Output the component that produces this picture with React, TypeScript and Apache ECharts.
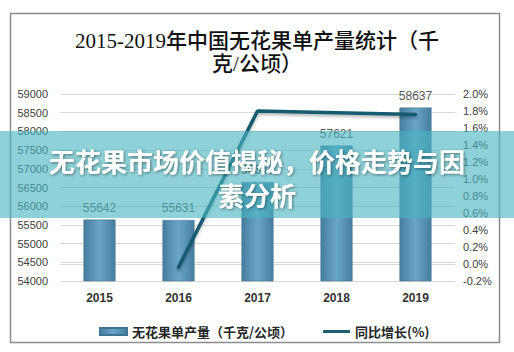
import React, { useEffect, useRef } from "react";
import * as echarts from "echarts";

const categories = ["2015", "2016", "2017", "2018", "2019"];
const yieldValues = [55642, 55631, 56645, 57621, 58637];
const growthValues: (number | null)[] = [null, -0.04, 1.8, 1.78, 1.76];
const titleText = "2015-2019年中国无花果单产量统计（千\n克/公顷）";
const bannerText = "无花果市场价值揭秘，价格走势与因\n素分析";
const seriesNames = ["无花果单产量（千克/公顷）", "同比增长(%)"];

export default function App() {
  const ref = useRef<HTMLDivElement>(null);
  useEffect(() => {
    if (!ref.current) return;
    const chart = echarts.init(ref.current, null, { renderer: "svg" });
    const barColor = new echarts.graphic.LinearGradient(0, 0, 1, 0, [
      { offset: 0, color: "#477d9f" },
      { offset: 0.5, color: "#69a5c7" },
      { offset: 1, color: "#477d9f" },
    ]);
    chart.setOption({
      animation: false,
      backgroundColor: "#ffffff",
      grid: { left: 60, right: 59, top: 94, bottom: 71 },
      legend: {
        left: 94,
        top: 320,
        itemGap: 30,
        itemWidth: 27,
        itemHeight: 7,
        textStyle: {
          fontFamily: "Noto Sans CJK SC",
          fontSize: 13,
          fontWeight: "bold",
          color: "#262626",
        },
        data: [
          { name: seriesNames[0], icon: "rect" },
          { name: seriesNames[1], icon: "path://M0,2 L28,2 L28,5 L0,5 Z" },
        ],
      },
      xAxis: {
        type: "category",
        data: categories,
        axisLine: { lineStyle: { color: "#d9d9d9" } },
        axisTick: { show: false },
        axisLabel: {
          margin: 11,
          fontFamily: "Liberation Sans",
          fontSize: 12,
          fontWeight: "bold",
          color: "#333333",
        },
      },
      yAxis: [
        {
          type: "value",
          min: 54000,
          max: 59000,
          interval: 500,
          axisLine: { show: false },
          axisTick: { show: false },
          splitLine: { lineStyle: { color: "#d9d9d9" } },
          axisLabel: {
            margin: 12,
            fontFamily: "Liberation Sans",
            fontSize: 11,
            color: "#404040",
            formatter: (v: number) => String(Math.round(v)),
          },
        },
        {
          type: "value",
          min: -0.2,
          max: 2.0,
          interval: 0.2,
          axisLine: { show: false },
          axisTick: { show: false },
          splitLine: { show: false },
          axisLabel: {
            margin: 8,
            fontFamily: "Liberation Sans",
            fontSize: 11,
            color: "#404040",
            formatter: (v: number) => v.toFixed(1) + "%",
          },
        },
      ],
      series: [
        {
          name: seriesNames[0],
          type: "bar",
          data: yieldValues,
          barWidth: 32,
          itemStyle: { color: barColor, borderColor: "#3f7393", borderWidth: 0.5 },
          label: {
            show: true,
            position: "top",
            distance: 6,
            fontFamily: "Liberation Sans",
            fontSize: 12,
            color: "#595959",
          },
        },
        {
          name: seriesNames[1],
          type: "line",
          yAxisIndex: 1,
          data: growthValues,
          symbol: "none",
          connectNulls: false,
          lineStyle: {
            color: "#185a6f",
            width: 3.5,
            cap: "round",
            shadowColor: "rgba(0,0,0,0.3)",
            shadowBlur: 3,
            shadowOffsetY: 2,
          },
          itemStyle: { color: "#185a6f" },
        },
      ],
      graphic: [
        {
          type: "text",
          z: 50,
          x: 257,
          y: 52,
          style: {
            text: titleText,
            fill: "#111111",
            fontFamily: "Liberation Serif, Noto Sans CJK SC",
            fontSize: 21,
            fontWeight: 500,
            lineHeight: 23,
            align: "center",
            verticalAlign: "middle",
          },
        },
        {
          type: "rect",
          z: 50,
          shape: { x: 10.5, y: 13.5, width: 489, height: 329 },
          style: { fill: "none", stroke: "#8c8c8c", lineWidth: 1.5 },
        },
        {
          type: "rect",
          z: 100,
          shape: { x: 0, y: 131, width: 514, height: 87 },
          style: { fill: "rgba(72,180,192,0.62)" },
        },
        {
          type: "text",
          z: 101,
          x: 257,
          y: 177,
          style: {
            text: bannerText,
            fill: "#ffffff",
            fontFamily: "Noto Sans CJK SC",
            fontSize: 26,
            fontWeight: "bold",
            lineHeight: 34,
            align: "center",
            verticalAlign: "middle",
            textShadowColor: "rgba(0,0,0,0.45)",
            textShadowBlur: 3,
            textShadowOffsetX: 1,
            textShadowOffsetY: 1,
          },
        },
      ],
    });
    return () => chart.dispose();
  }, []);
  return (
    <div
      ref={ref}
      style={{ position: "fixed", left: 0, top: 0, width: 514, height: 352, background: "#fff" }}
    />
  );
}
